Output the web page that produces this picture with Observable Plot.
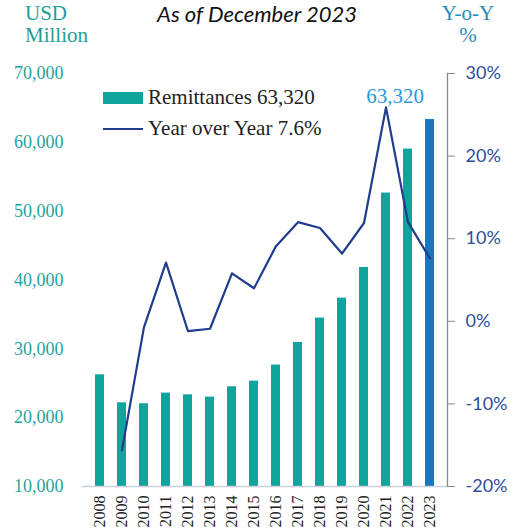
<!DOCTYPE html>
<html>
<head>
<meta charset="utf-8">
<script src="https://cdn.jsdelivr.net/npm/d3@7"></script>
<script src="https://cdn.jsdelivr.net/npm/@observablehq/plot@0.6"></script>
<style>
  html, body { margin: 0; padding: 0; background: #fff; }
  #wrap { position: relative; width: 513px; height: 530px; overflow: hidden; }
  #chart { position: absolute; left: 0; top: 0; }
  .lbl { position: absolute; white-space: nowrap; }
  .serif { font-family: "Liberation Serif", "DejaVu Serif", serif; }
</style>
</head>
<body>
<div id="wrap">
  <div id="chart"></div>
  <div class="lbl serif" style="left:25px; top:2px; font-size:21px; line-height:22px; color:#1f9e97;">USD<br>Million</div>
  <div class="lbl" style="left:157px; top:0px; font-family:Lato, sans-serif; font-style:italic; font-size:22px; color:#111;">As of December 2023</div>
  <div class="lbl serif" style="left:436px; top:2px; width:64px; text-align:center; font-size:21px; line-height:22px; color:#2b8db5;">Y-o-Y<br>%</div>
  <div id="legend"></div>
</div>
<script>
const years = [2008,2009,2010,2011,2012,2013,2014,2015,2016,2017,2018,2019,2020,2021,2022,2023];
const remittances = [26230,22160,22020,23570,23320,22990,24490,25310,27640,30920,34470,37370,41820,52630,59020,63320];
const yoy = [null,-15.6,-0.7,7.1,-1.2,-0.9,5.8,4.0,9.1,12.0,11.3,8.2,11.9,25.9,12.0,7.6];
const leftTicks = [10000,20000,30000,40000,50000,60000,70000];
const rightTicks = [-20,-10,0,10,20,30];
const legendLabels = ["Remittances 63,320", "Year over Year 7.6%"];
const annotationYear = 2021;
const annotationText = "63,320";

const TEAL = "#10a59c", BLUE = "#1b76c0", NAVY = "#1f3d8c";
const lo = 10000, hi = 70000, pLo = -20, pHi = 30;
const toLeft = p => lo + (p - pLo) / (pHi - pLo) * (hi - lo);

const data = years.map((y, i) => ({year: y, value: remittances[i], yoy: yoy[i]}));
const lineData = data.filter(d => d.yoy != null);
const serif = "Liberation Serif";

const plot = Plot.plot({
  width: 513, height: 530,
  marginLeft: 82, marginRight: 66, marginTop: 73, marginBottom: 44,
  style: {background: "transparent"},
  x: {type: "band", domain: years, paddingInner: 0.58, paddingOuter: 0.26, axis: null, label: null},
  y: {domain: [lo, hi], axis: null, label: null},
  marks: [
    Plot.barY(data.filter(d => d.year !== 2023), {x: "year", y1: lo, y2: "value", fill: TEAL}),
    Plot.barY(data.filter(d => d.year === 2023), {x: "year", y1: lo, y2: "value", fill: BLUE}),
    Plot.ruleY([lo], {stroke: "#c8d2dc", strokeWidth: 1.5}),
    Plot.line(lineData, {x: "year", y: d => toLeft(d.yoy), stroke: NAVY, strokeWidth: 2.2}),
    Plot.text(lineData.filter(d => d.year === annotationYear), {x: "year", y: d => toLeft(d.yoy), text: () => annotationText, dx: 9, dy: -4, lineAnchor: "bottom", fill: "#2a9ad8", fontSize: 21, fontFamily: serif}),
    Plot.axisY({anchor: "left", label: null, ticks: leftTicks, tickSize: 0, tickPadding: 19, tickFormat: d3.format(","), fill: "#1fa39c", fontSize: 18, fontFamily: serif}),
    Plot.axisY({anchor: "right", label: null, ticks: rightTicks.map(toLeft), tickSize: 7, tickPadding: 11, stroke: "#8a8a8a", fill: "#2f4d9c", fontSize: 18, fontFamily: "Lato", tickFormat: v => Math.round((v - lo) / (hi - lo) * (pHi - pLo) + pLo) + "%"}),
    Plot.frame({anchor: "right", stroke: "#8a8a8a", strokeWidth: 1.3}),
    Plot.axisX({anchor: "bottom", label: null, tickSize: 0, tickPadding: 9, tickRotate: -90, tickFormat: d => String(d), fill: "#222", fontSize: 16, fontFamily: serif})
  ]
});
document.getElementById("chart").appendChild(plot);

// legend
const legend = d3.select("#legend");
const rows = legend.selectAll("div").data(legendLabels).join("div")
  .attr("class", "lbl serif")
  .style("left", "103px")
  .style("top", (d, i) => (85 + i * 31) + "px")
  .style("font-size", "21px")
  .style("color", "#222")
  .style("display", "flex").style("align-items", "center");
rows.append("span")
  .style("display", "inline-block")
  .style("width", "40px")
  .style("height", (d, i) => i === 0 ? "12px" : "2px")
  .style("background", (d, i) => i === 0 ? TEAL : NAVY)
  .style("margin-right", "5px");
rows.append("span").text(d => d);
</script>
</body>
</html>
